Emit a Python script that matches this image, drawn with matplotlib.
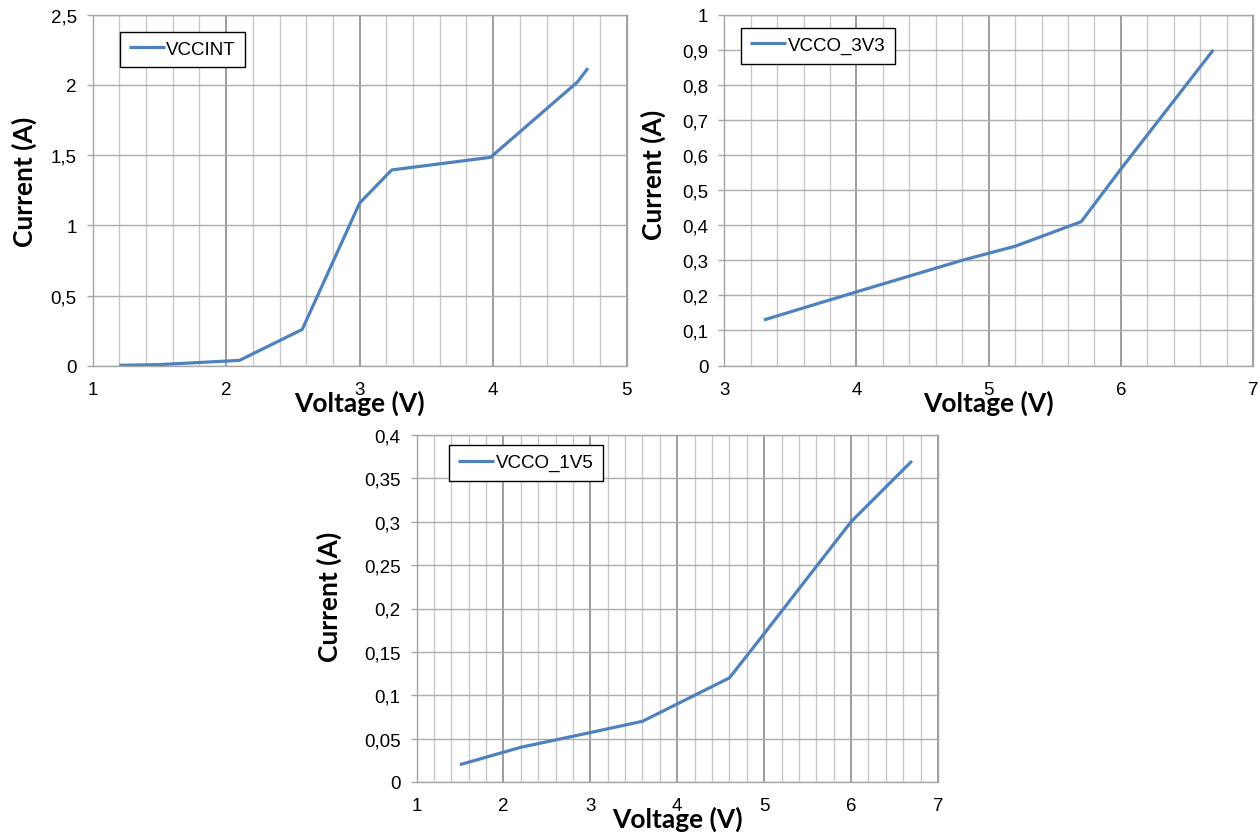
import matplotlib
matplotlib.use("Agg")
import matplotlib.pyplot as plt
from matplotlib.ticker import MultipleLocator, FuncFormatter

# dados (tensão em V, corrente em A)
v_int = [1.2, 1.5, 2.1, 2.57, 3.0, 3.24, 3.98, 4.63, 4.71]
i_int = [0.005, 0.01, 0.04, 0.26, 1.16, 1.395, 1.485, 2.02, 2.12]

v_3v3 = [3.3, 4.0, 4.8, 5.2, 5.7, 6.0, 6.7]
i_3v3 = [0.13, 0.21, 0.30, 0.34, 0.41, 0.56, 0.90]

v_1v5 = [1.5, 2.2, 3.0, 3.6, 4.0, 4.6, 5.0, 6.0, 6.7]
i_1v5 = [0.02, 0.04, 0.057, 0.07, 0.09, 0.12, 0.171, 0.30, 0.37]

W, H = 1260, 837
azul = "#4F81BD"
tick_font = "Liberation Sans"
label_font = "Lato"


def virgula(v, pos):
    s = ("%.2f" % v).rstrip("0").rstrip(".")
    return s.replace(".", ",")


def eixo(px_left, px_right, px_top, px_bottom):
    return fig.add_axes([px_left / W, 1 - px_bottom / H,
                         (px_right - px_left) / W, (px_bottom - px_top) / H])


def grafico(ax, v, i, nome, xlim, ylim, ydiv, leg_xy, ylab_x, ylab_y):
    ax.plot(v, i, color=azul, lw=2.3, label=nome, solid_capstyle="butt")
    ax.set_xlim(*xlim)
    ax.set_ylim(*ylim)
    ax.xaxis.set_major_locator(MultipleLocator(1))
    ax.xaxis.set_minor_locator(MultipleLocator(0.2))
    ax.yaxis.set_major_locator(MultipleLocator(ydiv))
    ax.yaxis.set_major_formatter(FuncFormatter(virgula))
    ax.xaxis.set_major_formatter(FuncFormatter(virgula))
    ax.grid(True, which="minor", axis="x", color="#c8c8c8", lw=1.0)
    ax.grid(True, which="major", axis="x", color="#8c8c8c", lw=1.2)
    ax.grid(True, which="major", axis="y", color="#adadad", lw=1.0)
    ax.set_axisbelow(True)
    for s in ax.spines.values():
        s.set_color("#a6a6a6")
        s.set_linewidth(1.0)
    ax.tick_params(axis="x", which="both", length=0, pad=11)
    ax.tick_params(axis="y", length=4.5, width=1.0, color="#a6a6a6", pad=7)
    for t in ax.get_xticklabels() + ax.get_yticklabels():
        t.set_fontfamily(tick_font)
        t.set_fontsize(13.5)
    ax.set_xlabel("Voltage (V)", fontfamily=label_font, fontweight="bold", fontsize=19)
    ax.set_ylabel("Current (A)", fontfamily=label_font, fontweight="bold", fontsize=19)
    ax.xaxis.set_label_coords(0.5, -0.068)
    ax.yaxis.set_label_coords(ylab_x, ylab_y)
    leg = ax.legend(loc="upper left", bbox_to_anchor=leg_xy, borderaxespad=0,
                    fancybox=False, framealpha=1, edgecolor="black",
                    handlelength=1.9, handletextpad=0.1, borderpad=0.5,
                    prop={"family": tick_font, "size": 13.5})
    leg.get_frame().set_linewidth(1.0)


fig = plt.figure(figsize=(W / 100, H / 100), dpi=100)

ax1 = eixo(92.6, 626.7, 15.7, 367)
grafico(ax1, v_int, i_int, "VCCINT", (1, 5), (0, 2.5), 0.5,
        ((119.5 - 92.6) / 534, (367 - 32.5) / 351.3), -0.105, 0.526)

ax2 = eixo(724.3, 1253, 15.8, 366.5)
grafico(ax2, v_3v3, i_3v3, "VCCO_3V3", (3, 7), (0, 1), 0.1,
        ((741 - 724.3) / 528.7, (366.5 - 28.5) / 350.7), -0.110, 0.547)

ax3 = eixo(416.5, 938, 436, 783)
grafico(ax3, v_1v5, i_1v5, "VCCO_1V5", (1, 7), (0, 0.4), 0.05,
        ((449 - 416.5) / 521.5, (783 - 445.7) / 347), -0.142, 0.537)

fig.savefig("out.png", dpi=100)
